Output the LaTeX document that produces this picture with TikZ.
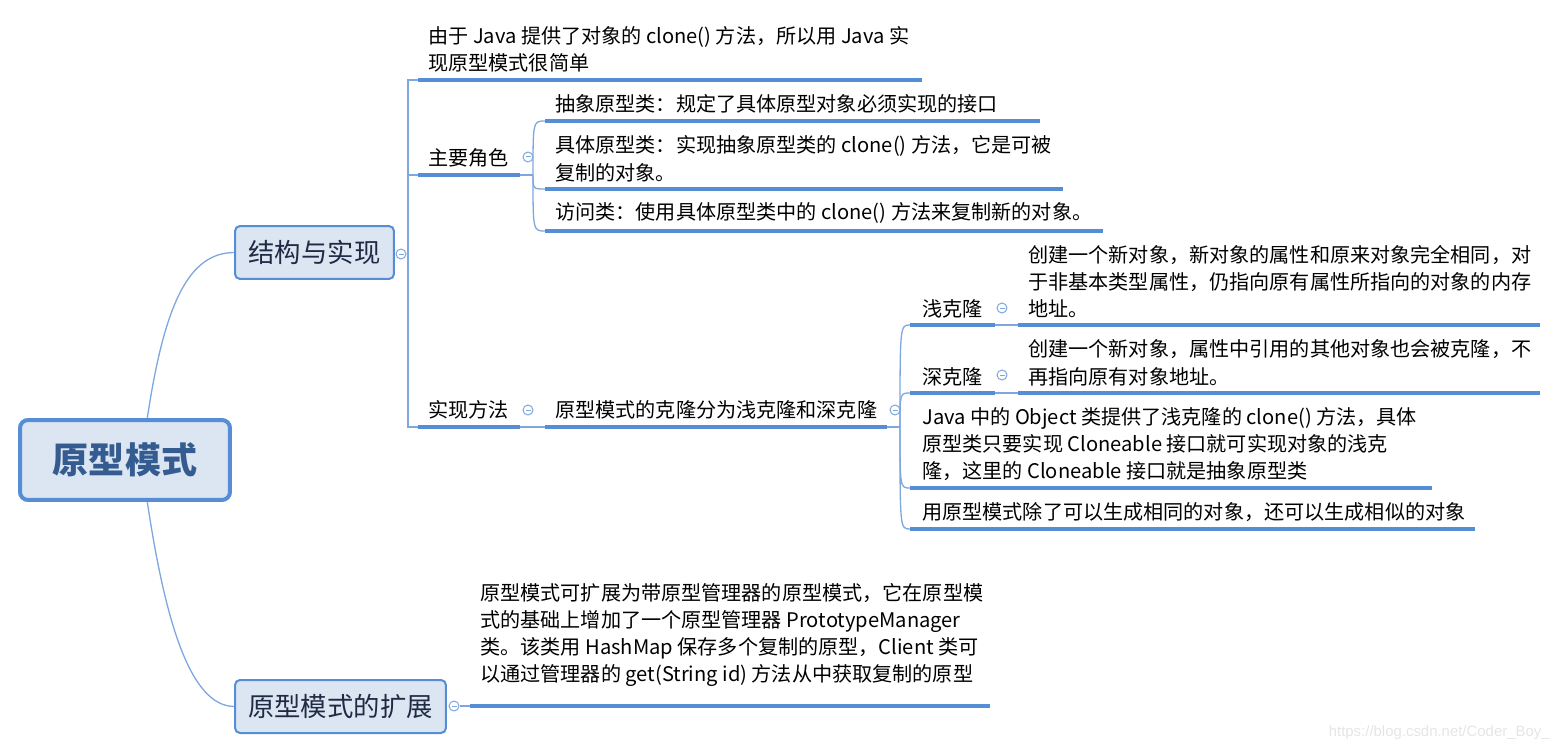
\documentclass[tikz,border=0pt]{standalone}
\usepackage{fontspec}
\setmainfont{Noto Sans CJK SC}
\newfontfamily\wmfont{Liberation Sans}
\usepackage{tikz}
\usetikzlibrary{positioning}
\definecolor{linec}{HTML}{558ED5}
\definecolor{thinc}{HTML}{7DA7DE}
\definecolor{boxfill}{HTML}{DCE6F2}
\definecolor{roottext}{HTML}{355C91}
\definecolor{maintext}{HTML}{1F2A44}
\tikzset{
  topic/.style={inner sep=0pt, anchor=south west, align=left, font=\fontsize{11.45}{15.4}\selectfont},
  uline/.style={linec, line width=0.08cm},
  link/.style={thinc, line width=0.026cm},
  fold/.style={circle, draw=thinc, fill=white, line width=0.02cm, minimum size=0.2cm, inner sep=0pt,
    path picture={\draw[thinc, line width=0.02cm] ([xshift=-0.05cm]path picture bounding box.center) -- ([xshift=0.05cm]path picture bounding box.center);}},
  mainbox/.style={draw=linec, fill=boxfill, rounded corners=0.1cm, line width=0.04cm, text=maintext,
    font=\fontsize{15}{18}\selectfont, minimum height=1.06cm, inner sep=0pt},
  rootbox/.style={draw=linec, fill=boxfill, rounded corners=0.16cm, line width=0.08cm, text=roottext,
    font=\fontsize{20.5}{24}\selectfont\bfseries, minimum width=4.2cm, minimum height=1.6cm, inner sep=0pt}
}
\begin{document}
\begin{tikzpicture}[x=0.02cm, y=-0.02cm]
\useasboundingbox (0,0) rectangle (1559,750);
% main topics
\node[rootbox] (root) at (125,460) {原型模式};
\node[mainbox, minimum width=3.18cm] (jg) at (314.5,252.5) {结构与实现};
\node[mainbox, minimum width=4.22cm] (kz) at (340.5,706.5) {原型模式的扩展};
\draw[link] (root.62) .. controls (165,300) and (190,253) .. (jg.west);
\draw[link] (root.-62) .. controls (165,620) and (190,706) .. (kz.west);
\node[fold] (fjg) at (401,254) {};
\node[fold] (fkz) at (454,706) {};
% structure
\coordinate (sp) at (408,254);
\coordinate (u0a) at (418,80);
\coordinate (u0b) at (922,80);
\coordinate (u1a) at (418,175);
\coordinate (u1b) at (520,175);
\coordinate (u2a) at (418,427);
\coordinate (u2b) at (520,427);
\draw[link] (fjg) -- (sp);
\draw[link] (sp) |- (u0a);
\draw[link] (sp) |- (u1a);
\draw[link] (sp) |- (u2a);
\draw[uline] (u0a) -- (u0b);
\draw[uline] (u1a) -- (u1b);
\draw[uline] (u2a) -- (u2b);
\node[topic] (java) at (428,73) {由于 Java 提供了对象的 clone() 方法，所以用 Java 实\\现原型模式很简单};
\node[topic] (roles) at (428,168) {主要角色};
\node[fold] (froles) at (528,157) {};
\node[topic] (impl) at (428,420) {实现方法};
\node[fold] (fimpl) at (528,410) {};
% roles
\coordinate (jr) at (533,175);
\coordinate (r1a) at (545,121);
\coordinate (r1b) at (1040,121);
\coordinate (r2a) at (545,189);
\coordinate (r2b) at (1063,189);
\coordinate (r3a) at (545,231);
\coordinate (r3b) at (1103,231);
\draw[link] (u1b) -- (jr);
\foreach \r in {r1a,r2a,r3a}
  \draw[link] (jr) .. controls (jr |- \r) .. (\r);
\draw[uline] (r1a) -- (r1b);
\draw[uline] (r2a) -- (r2b);
\draw[uline] (r3a) -- (r3b);
\node[topic] (abs) at (555,114) {抽象原型类：规定了具体原型对象必须实现的接口};
\node[topic] (con) at (555,182) {具体原型类：实现抽象原型类的 clone() 方法，它是可被\\复制的对象。};
\node[topic] (acc) at (555,224) {访问类：使用具体原型类中的 clone() 方法来复制新的对象。};
% implementation
\coordinate (ka) at (545,427);
\coordinate (kb) at (887,427);
\coordinate (jk) at (900,427);
\draw[link] (u2b) -- (ka);
\draw[uline] (ka) -- (kb);
\draw[link] (kb) -- (jk);
\node[topic] (clone) at (555,420) {原型模式的克隆分为浅克隆和深克隆};
\node[fold] (fclone) at (895,410) {};
\coordinate (s1a) at (910,325);
\coordinate (s1b) at (995,325);
\coordinate (s2a) at (910,393);
\coordinate (s2b) at (995,393);
\coordinate (s3a) at (910,488);
\coordinate (s3b) at (1432,488);
\coordinate (s4a) at (910,529);
\coordinate (s4b) at (1475,529);
\foreach \s in {s1a,s2a,s3a,s4a}
  \draw[link] (jk) .. controls (jk |- \s) .. (\s);
\draw[uline] (s1a) -- (s1b);
\draw[uline] (s2a) -- (s2b);
\draw[uline] (s3a) -- (s3b);
\draw[uline] (s4a) -- (s4b);
\node[topic] (shallow) at (922,318) {浅克隆};
\node[fold] (fshallow) at (1002,308) {};
\node[topic] (deep) at (922,386) {深克隆};
\node[fold] (fdeep) at (1002,375) {};
\node[topic] (object) at (922,481) {Java 中的 Object 类提供了浅克隆的 clone() 方法，具体\\原型类只要实现 Cloneable 接口就可实现对象的浅克\\隆，这里的 Cloneable 接口就是抽象原型类};
\node[topic] (similar) at (922,522) {用原型模式除了可以生成相同的对象，还可以生成相似的对象};
\coordinate (d1a) at (1018,325);
\coordinate (d1b) at (1540,325);
\coordinate (d2a) at (1018,393);
\coordinate (d2b) at (1540,393);
\draw[link] (s1b) -- (d1a);
\draw[link] (s2b) -- (d2a);
\draw[uline] (d1a) -- (d1b);
\draw[uline] (d2a) -- (d2b);
\node[topic] (shallowd) at (1028,318) {创建一个新对象，新对象的属性和原来对象完全相同，对\\于非基本类型属性，仍指向原有属性所指向的对象的内存\\地址。};
\node[topic] (deepd) at (1028,386) {创建一个新对象，属性中引用的其他对象也会被克隆，不\\再指向原有对象地址。};
% extension
\coordinate (ea) at (470,706);
\coordinate (eb) at (990,706);
\draw[link] (fkz) -- (ea);
\draw[uline] (ea) -- (eb);
\node[topic] (ext) at (480,687) {原型模式可扩展为带原型管理器的原型模式，它在原型模\\式的基础上增加了一个原型管理器 PrototypeManager\\类。该类用 HashMap 保存多个复制的原型，Client 类可\\以通过管理器的 get(String id) 方法从中获取复制的原型};
\node[anchor=east, inner sep=0pt, text=black!10, font=\wmfont\fontsize{8.5}{10}\selectfont] (wm) at (1550,733) {https://blog.csdn.net/Coder\_Boy\_};
\end{tikzpicture}
\end{document}
